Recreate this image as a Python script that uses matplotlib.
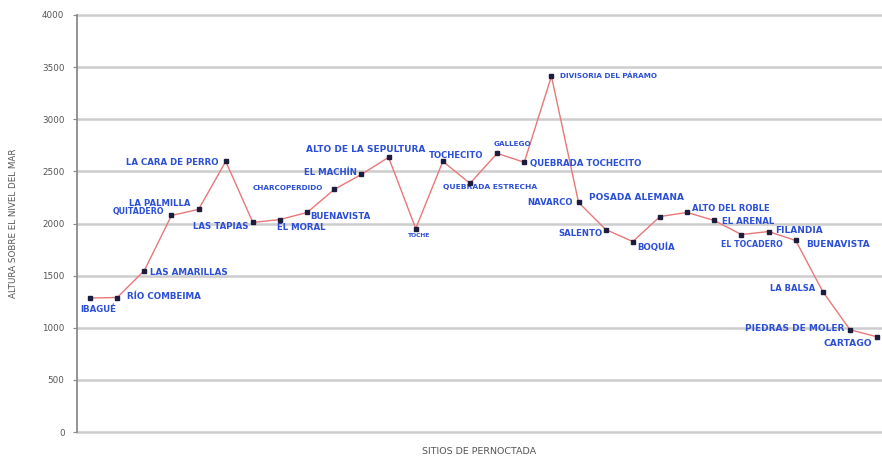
import numpy as np
import matplotlib.pyplot as plt

plt.rcParams['font.family'] = ['DejaVu Sans']

# sitios de pernoctada (camino del Quindio) y altura en m
sitios = ['IBAGUÉ', 'RÍO COMBEIMA', 'LAS AMARILLAS', 'QUITADERO', 'LA PALMILLA',
          'LA CARA DE PERRO', 'LAS TAPIAS', 'EL MORAL', 'BUENAVISTA', 'CHARCOPERDIDO',
          'EL MACHÍN', 'ALTO DE LA SEPULTURA', 'TOCHE', 'TOCHECITO', 'QUEBRADA ESTRECHA',
          'GALLEGO', 'QUEBRADA TOCHECITO', 'DIVISORIA DEL PÁRAMO', 'POSADA ALEMANA', 'SALENTO',
          'BOQUÍA', '', 'ALTO DEL ROBLE', 'EL ARENAL', 'EL TOCADERO',
          'FILANDIA', 'BUENAVISTA', 'LA BALSA', 'PIEDRAS DE MOLER', 'CARTAGO']
altura = [1285, 1290, 1548, 2077, 2135, 2596, 2010, 2038, 2106, 2327,
          2471, 2635, 1952, 2596, 2385, 2673, 2587, 3413, 2202, 1942,
          1827, 2067, 2106, 2029, 1894, 1923, 1837, 1346, 981, 913]
extra_sitio = 'NAVARCO'   # second label on the Posada Alemana point
extra_idx = 18

yticks = [0, 500, 1000, 1500, 2000, 2500, 3000, 3500, 4000]

# label layout: (ha, dx px, dy px, size)
lay = [('center', 8, -11, 7.2), ('left', 10, 1, 7.3), ('left', 6, -2, 7.3), ('right', -7, 4, 6.5),
       ('right', -8, 6, 7), ('right', -7, -1, 7.2), ('right', -4, -4, 7.2), ('left', -3, -8, 7.1),
       ('left', 3, -4, 7.2), ('right', -11, 1, 6), ('right', -5, 2, 7.2), ('center', -23, 8, 7.5),
       ('center', 3, -7, 5), ('center', 13, 6, 7), ('center', 20, -4, 6.2), ('center', 15, 9, 6),
       ('left', 6, -1, 7.2), ('left', 9, 0, 6), ('left', 10, 5, 7.5), ('right', -3, -4, 7),
       ('left', 4, -6, 7.2), ('left', 0, 0, 6), ('left', 5, 4, 6.9), ('left', 8, -1, 7.2),
       ('center', 10, -10, 6.5), ('left', 7, 1, 7.5), ('left', 10, -4, 7.5), ('right', -8, 3, 6.9),
       ('right', -6, 1, 7.5), ('right', -5, -7, 7.6)]
shrink = 0.87  # DejaVu is wider than Arial

fig = plt.figure(figsize=(8.82, 4.58), dpi=100)
ax = fig.add_axes([77 / 882, 1 - 432 / 458, 805 / 882, 417 / 458])

x = np.arange(len(altura))

ax.plot(x, altura, color='#e8777a', lw=1.0, zorder=3)
ax.plot(x, altura, ls='none', marker='s', ms=2.8, color='#1c1c3c', zorder=4)

blue = '#2b4fd6'
for i, name in enumerate(sitios):
    if not name:
        continue
    ha, dx, dy, fs = lay[i]
    ax.annotate(name, (x[i], altura[i]), xytext=(dx, dy), textcoords='offset pixels',
                ha=ha, va='center', fontsize=fs * shrink, color=blue, fontweight='bold')
ax.annotate(extra_sitio, (x[extra_idx], altura[extra_idx]), xytext=(-6, 0),
            textcoords='offset pixels', ha='right', va='center', fontsize=7 * shrink,
            color=blue, fontweight='bold')

for t in yticks:
    ax.axhline(t, color='#cdcdcd', lw=1.8, zorder=1, clip_on=False)

ax.set_xlim(-0.48, 29.18)
ax.set_ylim(0, 4000)
ax.set_yticks(yticks)
ax.set_xticks([])
for s in ['top', 'right', 'bottom']:
    ax.spines[s].set_visible(False)
ax.spines['left'].set_color('#8a8a8a')
ax.spines['left'].set_linewidth(1.3)
ax.tick_params(axis='y', length=3, color='#8a8a8a', labelsize=6.3, labelcolor='#555555', pad=6)

ax.set_ylabel('ALTURA SOBRE EL NIVEL DEL MAR', fontsize=6.3, color='#555555', labelpad=17)
ax.set_xlabel('SITIOS DE PERNOCTADA', fontsize=6.8, color='#555555', labelpad=11)

plt.savefig('out.png', dpi=100)
